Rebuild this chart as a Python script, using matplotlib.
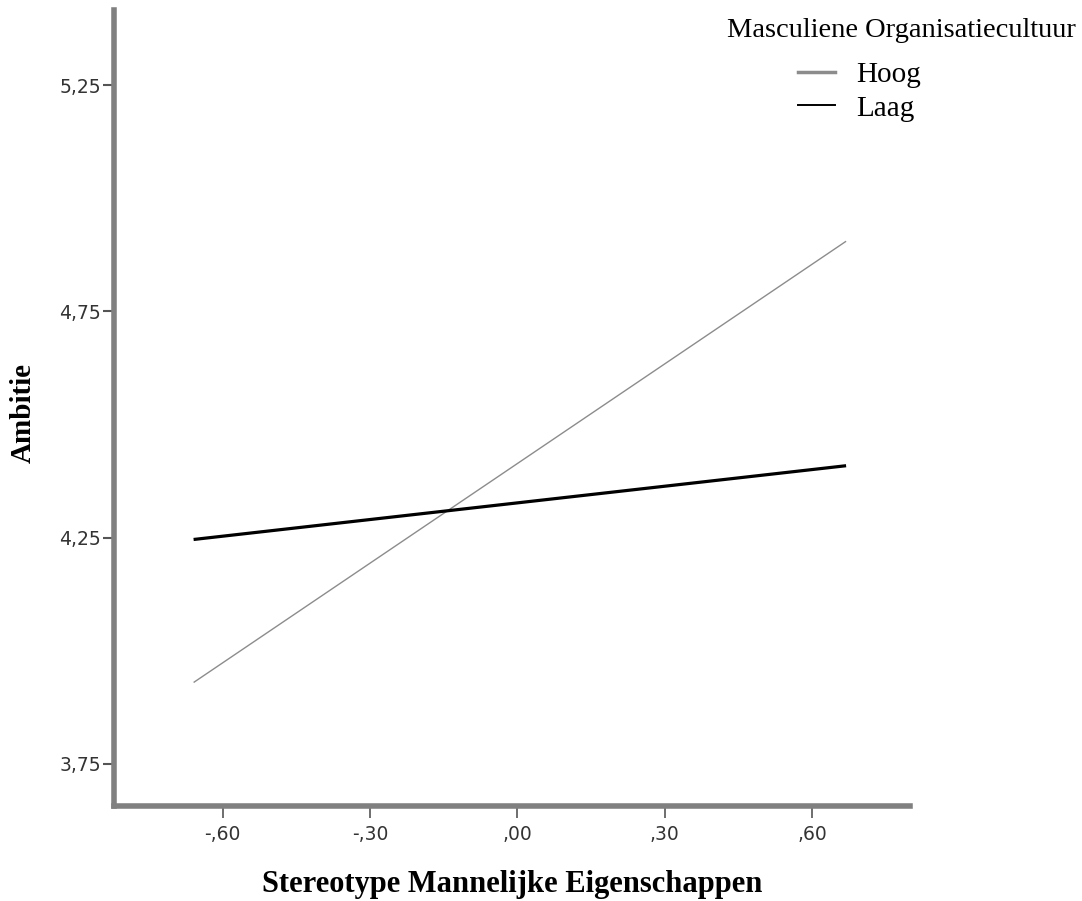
import matplotlib.pyplot as plt
from matplotlib.lines import Line2D

# data
stereotype = [-0.659, 0.669]
ambitie_hoog = [3.930, 4.905]
ambitie_laag = [4.246, 4.409]

xticks = [-0.60, -0.30, 0.00, 0.30, 0.60]
xtick_labels = ['-,60', '-,30', ',00', ',30', ',60']
yticks = [3.75, 4.25, 4.75, 5.25]
ytick_labels = ['3,75', '4,25', '4,75', '5,25']

tick_font = ['DejaVu Sans']
serif = ['Liberation Serif', 'DejaVu Serif']

fig = plt.figure(figsize=(10.82, 9.01), dpi=100)
ax = fig.add_axes([0.1049, 0.1054, 0.7361, 0.8835])

ax.plot(stereotype, ambitie_hoog, color='#8c8c8c', lw=1.0, solid_capstyle='butt')
ax.plot(stereotype, ambitie_laag, color='black', lw=2.3, solid_capstyle='butt')

ax.set_xlim(-0.822, 0.799)
ax.set_ylim(3.657, 5.416)

ax.set_xticks(xticks)
ax.set_xticklabels(xtick_labels, family=tick_font, fontsize=13.5, color='#333333')
ax.set_yticks(yticks)
ax.set_yticklabels(ytick_labels, family=tick_font, fontsize=13.5, color='#333333')

for s in ['top', 'right']:
    ax.spines[s].set_visible(False)
for s in ['left', 'bottom']:
    ax.spines[s].set_color('#808080')
    ax.spines[s].set_linewidth(4.0)

ax.tick_params(axis='y', length=8, width=1.5, color='#555555', pad=1)
ax.tick_params(axis='x', length=8.5, width=1.2, color='#555555', pad=5)

ax.set_xlabel('Stereotype Mannelijke Eigenschappen', family=serif,
              fontweight='bold', fontsize=22, va='center')
ax.xaxis.set_label_coords(0.5, -0.099)
ax.set_ylabel('Ambitie', family=serif, fontweight='bold', fontsize=21,
              va='center')
ax.yaxis.set_label_coords(-0.113, 0.494)

# legend
fig.text(0.9945, 0.966, 'Masculiene Organisatiecultuur', family=serif,
         fontsize=20.5, ha='right', va='center')
handles = [Line2D([], [], color='#8c8c8c', lw=2.5),
           Line2D([], [], color='black', lw=1.4)]
fig.legend(handles, ['Hoog', 'Laag'], loc='upper left',
           bbox_to_anchor=(0.7236, 0.948), frameon=False,
           prop={'family': serif, 'size': 21}, handlelength=1.3,
           handletextpad=0.7, labelspacing=0.25, borderpad=0)

fig.savefig('out.png', dpi=100, facecolor='white')
